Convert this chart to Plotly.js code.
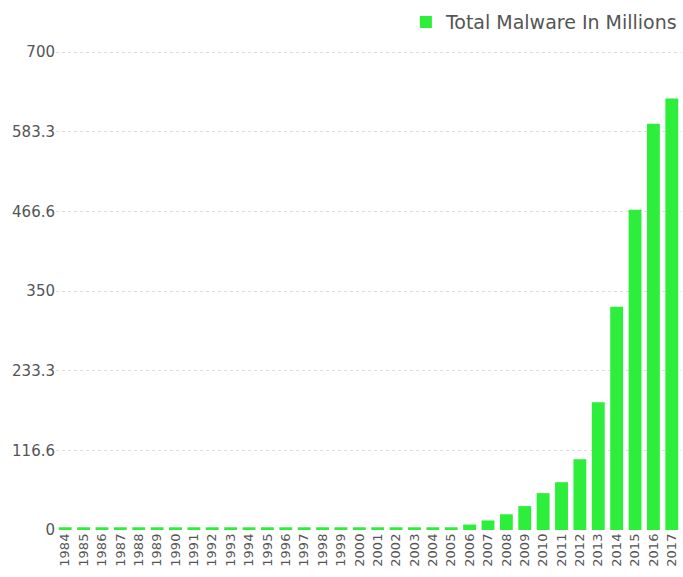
<!DOCTYPE html>
<html>
<head>
<meta charset="utf-8">
<script src="https://cdn.plot.ly/plotly-3.0.1.min.js"></script>
<style>html,body{margin:0;padding:0;background:#fff;}#chart{width:683px;height:577px;}</style>
</head>
<body>
<div id="chart"></div>
<script>
const years = ["1984","1985","1986","1987","1988","1989","1990","1991","1992","1993","1994","1995","1996","1997","1998","1999","2000","2001","2002","2003","2004","2005","2006","2007","2008","2009","2010","2011","2012","2013","2014","2015","2016","2017"];
const malwareMillions = [4,4,4,4,4,4,4,4,4,4,4,4,4,4,4,4,4,4,4,4,4,4,8,14,23,35,54,70,103.5,187,327,469,595,632];
const yTickVals = [0,116.6,233.3,350,466.6,583.3,700];
const yTickText = ["0","116.6","233.3","350","466.6","583.3","700"];
const seriesName = "Total Malware In Millions";

const trace = {
  type: "bar",
  x: years,
  y: malwareMillions,
  name: seriesName,
  marker: {color: "#2DEE3A"},
  showlegend: true,
  hoverinfo: "x+y"
};

const layout = {
  width: 683,
  height: 577,
  margin: {l: 56, r: 0, t: 50, b: 47, pad: 0},
  paper_bgcolor: "#fff",
  plot_bgcolor: "#fff",
  bargap: 0.3,
  font: {family: "'DejaVu Sans', sans-serif", color: "#555"},
  showlegend: true,
  legend: {
    orientation: "h",
    x: 1.003, xanchor: "right",
    y: 1.058, yanchor: "middle",
    font: {size: 19, color: "#555"},
    itemsizing: "constant"
  },
  xaxis: {
    type: "category",
    tickangle: -90,
    tickfont: {size: 13, color: "#555"},
    showgrid: false,
    showline: false,
    zeroline: false,
    ticks: ""
  },
  yaxis: {
    range: [0, 703],
    tickmode: "array",
    tickvals: yTickVals,
    ticktext: yTickText,
    tickfont: {size: 15, color: "#555"},
    showgrid: true,
    gridcolor: "#dddddd",
    griddash: "dot",
    gridwidth: 1,
    zeroline: false,
    showline: false,
    ticks: ""
  }
};

Plotly.newPlot("chart", [trace], layout, {displayModeBar: false, staticPlot: true});
</script>
</body>
</html>
